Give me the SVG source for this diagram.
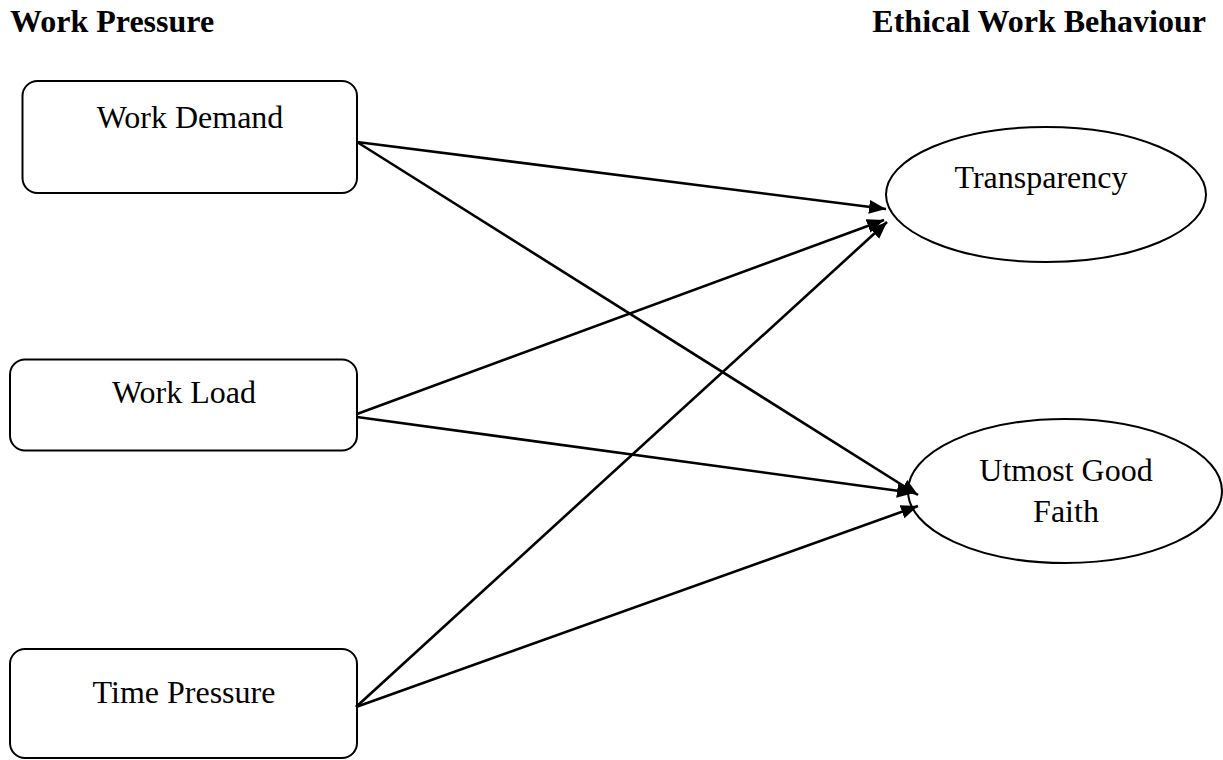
<svg xmlns="http://www.w3.org/2000/svg" width="1223" height="760" viewBox="0 0 1223 760">
<defs>
<marker id="arr" markerUnits="userSpaceOnUse" markerWidth="20" markerHeight="16" refX="17" refY="7" orient="auto">
<path d="M0,0 L17,7 L0,14 Z" fill="#000"/>
</marker>
<style>
.t{font-family:"Liberation Serif","Times New Roman",serif;font-size:32px;fill:#000}
.h{font-family:"Liberation Serif","Times New Roman",serif;font-size:32px;font-weight:bold;fill:#000}
.box{fill:#fff;stroke:#000;stroke-width:2}
.c{stroke:#000;stroke-width:2.6;fill:none;marker-end:url(#arr)}
</style>
</defs>
<rect width="1223" height="760" fill="#fff"/>
<text class="h" x="10" y="32">Work Pressure</text>
<text class="h" x="1206" y="32" text-anchor="end">Ethical Work Behaviour</text>
<g id="work-demand">
<rect class="box" x="22.5" y="81" width="334.5" height="112" rx="15"/>
<text class="t" x="190" y="128" text-anchor="middle">Work Demand</text>
</g>
<g id="work-load">
<rect class="box" x="10" y="359.5" width="347" height="91" rx="15"/>
<text class="t" x="184" y="403" text-anchor="middle">Work Load</text>
</g>
<g id="time-pressure">
<rect class="box" x="10" y="649" width="347" height="109" rx="15"/>
<text class="t" x="184" y="703" text-anchor="middle">Time Pressure</text>
</g>
<g id="transparency">
<ellipse class="box" cx="1046" cy="194.5" rx="160" ry="67.5"/>
<text class="t" x="1041" y="188" text-anchor="middle">Transparency</text>
</g>
<g id="utmost-good-faith">
<ellipse class="box" cx="1065" cy="491" rx="157" ry="72"/>
<text class="t" x="1066" y="481" text-anchor="middle">Utmost Good</text>
<text class="t" x="1066" y="522" text-anchor="middle">Faith</text>
</g>
<g id="connectors">
<line class="c" x1="357" y1="142" x2="886" y2="209"/>
<line class="c" x1="357" y1="142" x2="918" y2="495"/>
<line class="c" x1="357" y1="414" x2="884" y2="220"/>
<line class="c" x1="357" y1="417" x2="914" y2="493"/>
<line class="c" x1="356" y1="707" x2="887" y2="222"/>
<line class="c" x1="356" y1="707" x2="918" y2="506"/>
</g>
</svg>
